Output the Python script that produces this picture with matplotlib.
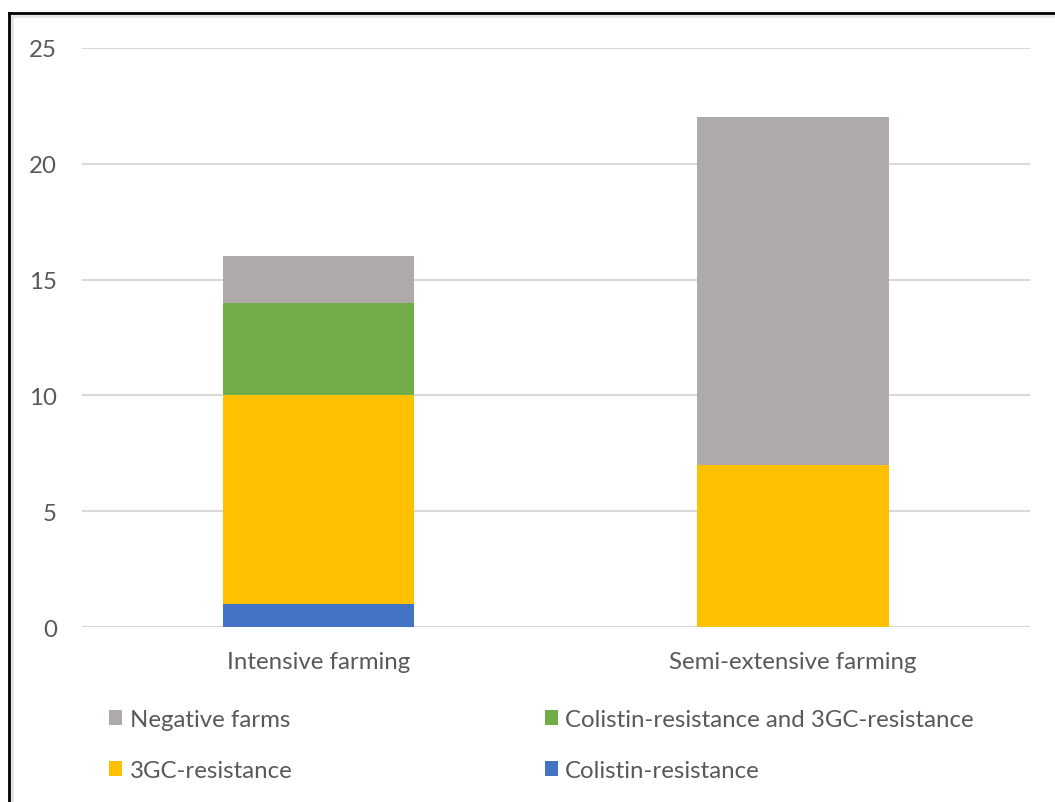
import matplotlib.pyplot as plt
from matplotlib.patches import Patch
from matplotlib.lines import Line2D
import numpy as np

# Farm counts per farming type
categories = ['Intensive farming', 'Semi-extensive farming']
colistin = [1, 0]
gc3 = [9, 7]
colistin_gc3 = [4, 0]
negative = [2, 15]

series = [
    ('Colistin-resistance', colistin, '#4472C4'),
    ('3GC-resistance', gc3, '#FFC000'),
    ('Colistin-resistance and 3GC-resistance', colistin_gc3, '#70AD47'),
    ('Negative farms', negative, '#AEAAAA'),
]

plt.rcParams['font.family'] = ['Lato', 'DejaVu Sans']
text_color = '#595959'
fs = 17.3

fig = plt.figure(figsize=(10.55, 8.03), dpi=100)
ax = fig.add_axes([0.0777, 0.2179, 0.8986, 0.7211])

x = np.arange(len(categories))
bottom = np.zeros(len(categories))
handles = {}
for label, values, color in series:
    values = np.array(values, dtype=float)
    ax.bar(x, values, width=0.403, bottom=bottom, color=color, zorder=3)
    handles[label] = Patch(facecolor=color, label=label)
    bottom += values

ax.set_xlim(-0.5, 1.5)
ax.set_ylim(0, 25)
ax.set_yticks(range(0, 26, 5))
ax.set_xticks(x)
ax.set_xticklabels(categories)
ax.tick_params(axis='both', length=0, labelsize=fs, colors=text_color)
ax.tick_params(axis='y', pad=18)
ax.tick_params(axis='x', pad=17)
ax.grid(axis='y', color='#D9D9D9', linewidth=1.5, zorder=0)
for spine in ax.spines.values():
    spine.set_visible(False)

# two columns: gray/yellow on the left, green/blue on the right
order = ['Negative farms', '3GC-resistance',
         'Colistin-resistance and 3GC-resistance', 'Colistin-resistance']
leg = fig.legend(handles=[handles[k] for k in order], ncol=2,
                 loc='upper left', bbox_to_anchor=(0.1035, 0.1159),
                 frameon=False, fontsize=fs, handlelength=0.55, handleheight=0.55,
                 handletextpad=0.3, labelspacing=1.25, columnspacing=10.5,
                 borderpad=0, borderaxespad=0)
for t in leg.get_texts():
    t.set_color(text_color)

# outer frame (top and left edges only)
fig.add_artist(Line2D([0.0085, 1.0], [1 - 13.5 / 803] * 2, color='black', linewidth=2))
fig.add_artist(Line2D([0.0085, 0.0085], [0.0, 1 - 13.5 / 803], color='black', linewidth=2))
fig.add_artist(Line2D([0.0112, 1.0], [1 - 16.5 / 803] * 2, color='#E3E3E3', linewidth=2))
fig.add_artist(Line2D([0.0112, 0.0112], [0.0, 1 - 16.5 / 803], color='#E3E3E3', linewidth=2))

fig.savefig('out.png', dpi=100)
